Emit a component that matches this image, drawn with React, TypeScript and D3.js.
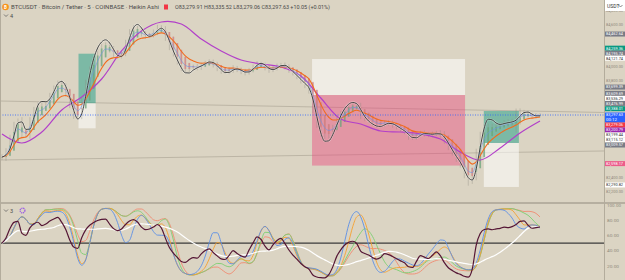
import React, { useEffect, useRef } from 'react';
import * as d3 from 'd3';

const symbolTitle = 'BTCUSDT · Bitcoin / Tether · 5 · COINBASE · Heikin Ashi';
const ohlcFields = ['O', 'H', 'L', 'C'];
const ohlcValues = ['83,279.91', '83,335.52', '83,279.06', '83,297.63'];
const changeText = '+10.05 (+0.01%)';
const countdown = '00:12';

// 5m closes
const closes = [
	82693, 82765, 82952, 83154, 83197, 83039, 83010, 83211, 83370, 83442,
	83398, 83456, 83571, 83672, 83758, 83701, 83614, 83456, 83312, 83283,
	83499, 83744, 83945, 84089, 84219, 84291, 84312, 84241, 84175, 84147,
	84190, 84334, 84478, 84550, 84521, 84463, 84434, 84449, 84492, 84550,
	84521, 84420, 84291, 84190, 84089, 83974, 83945, 83974, 83992, 83981,
	84017, 84046, 84060, 84017, 83974, 83931, 83921, 83945, 83974, 83945,
	83921, 83908, 83945, 83988, 84032, 84017, 83974, 83945, 83974, 84003,
	84017, 83988, 83945, 83902, 83859, 83801, 83744, 83686, 83413, 83183,
	83053, 83010, 83039, 83111, 83226, 83312, 83384, 83427, 83442, 83413,
	83298, 83255, 83226, 83178, 83149, 83161, 83190, 83178, 83154, 83125,
	83096, 83067, 82996, 82981, 83010, 83039, 83024, 83010, 83024, 83039,
	83010, 82938, 82852, 82780, 82693, 82621, 82477, 82391, 82449, 82722,
	82981, 83111, 83129, 83118, 83139, 83154, 83183, 83178, 83197, 83240,
	83312, 83326, 83298, 83279, 83288, 83297.63,
];

// wick size per bar (USDT)
const wicks = [
	40, 55, 60, 45, 50, 70, 40, 55, 45, 35,
	40, 30, 45, 50, 35, 40, 55, 60, 70, 50,
	45, 60, 50, 40, 55, 35, 30, 45, 50, 40,
	35, 45, 55, 40, 30, 35, 40, 30, 35, 45,
	40, 55, 60, 50, 65, 45, 40, 35, 30, 40,
	35, 30, 40, 35, 45, 40, 30, 35, 40, 30,
	35, 40, 30, 35, 40, 30, 35, 40, 30, 35,
	30, 35, 40, 35, 45, 50, 60, 80, 90, 70,
	60, 55, 50, 45, 40, 45, 35, 30, 40, 35,
	60, 45, 40, 35, 30, 35, 30, 35, 40, 35,
	40, 45, 55, 40, 35, 30, 35, 30, 35, 30,
	40, 55, 60, 65, 70, 80, 90, 110, 85, 90,
	75, 60, 45, 40, 50, 35, 40, 55, 45, 150,
	80, 45, 35, 30, 35, 25,
];

// slow average (purple), one reading every 5 bars, last one on the last bar
const slowLine = [
	83024, 82895, 83053, 83370, 83557, 83816, 84219, 84506, 84636, 84607,
	84391, 84219, 84089, 84032, 83988, 83859, 83542, 83240, 83168, 83067,
	83053, 83024, 82952, 82765, 82650, 82823, 83039, 83211,
];
const SLOW_EVERY = 5;

const priceTicks = [82200, 82400, 82600, 82800, 83000, 83200, 83400, 83600, 83800, 84000, 84200, 84400, 84600, 84800];
const oscTicks = [20, 40, 60, 80, 100];
const oscMid = 50;

const labelValues = [
	84462.64, 84259.36, 84195.74, 84121.74, 83699.39, 83609.69, 83536.29, 83476.99, 83388.01,
	83297.63, 83279.06, 83200.79, 83199.44, 83115.12, 83009.57, 82598.17, 82290.82,
];
const labelKinds = [
	'drawing', 'long', 'drawing', 'line', 'drawing', 'drawing', 'line', 'drawing', 'long',
	'last', 'low', 'slow', 'line', 'line', 'drawing', 'short', 'line',
];

// position tools: bar index range + prices
const positions = [
	{ side: 'long', start: 19.2, end: 23.5, entry: 83466, target: 84180, stop: 83106 },
	{ side: 'short', start: 77.8, end: 116.2, entry: 83585, target: 82570, stop: 84103 },
	{ side: 'long', start: 120.9, end: 129.7, entry: 82895, target: 83355, stop: 82262 },
];

const trendLines = [
	{ i1: -0.5, p1: 83499, i2: 151.1, p2: 83334 },
	{ i1: -0.5, p1: 82650, i2: 151.1, p2: 82780 },
];

const W = 625;
const H = 280;
const PLOT_R = 604;
const MAIN_BOTTOM = 202;
const OSC_TOP = 204;
const BG = '#dbd4c3';
const FONT = 'Roboto, "Noto Sans", sans-serif';

const LABEL_STYLE = {
	drawing: { bg: '#787b86', fg: '#ffffff' },
	long: { bg: '#089981', fg: '#ffffff' },
	line: { bg: '#ffffff', fg: '#2a2a2a' },
	last: { bg: '#2962ff', fg: '#ffffff' },
	low: { bg: '#f23645', fg: '#ffffff' },
	slow: { bg: '#9c27b0', fg: '#ffffff' },
	short: { bg: '#ec5b8a', fg: '#ffffff' },
};

function ema(values, n) {
	const k = 2 / (n + 1);
	let prev = values[0];
	return values.map((v, i) => (prev = i === 0 ? v : v * k + prev * (1 - k)));
}

function sma(values, n) {
	return values.map((_, i) => d3.mean(values.slice(Math.max(0, i - n + 1), i + 1)));
}

function wma(values, n) {
	return values.map((_, i) => {
		const len = Math.min(n, i + 1);
		let num = 0;
		let den = 0;
		for (let j = 0; j < len; j++) {
			num += values[i - j] * (len - j);
			den += len - j;
		}
		return num / den;
	});
}

function hma(values, n) {
	const half = wma(values, Math.round(n / 2));
	const full = wma(values, n);
	return wma(half.map((v, i) => 2 * v - full[i]), Math.round(Math.sqrt(n)));
}

// wilder rsi, seeded with the average absolute move on both sides
function rsi(values, n) {
	const moves = values.slice(1).map((v, i) => Math.abs(v - values[i]));
	let up = d3.mean(moves) / 2;
	let dn = up;
	return values.map((v, i) => {
		if (i > 0) {
			const ch = v - values[i - 1];
			up = (up * (n - 1) + Math.max(ch, 0)) / n;
			dn = (dn * (n - 1) + Math.max(-ch, 0)) / n;
		}
		return 100 - 100 / (1 + up / dn);
	});
}

function stoch(c, hi, lo, n, s) {
	const raw = c.map((v, i) => {
		const a = Math.max(0, i - n + 1);
		const h = d3.max(hi.slice(a, i + 1));
		const l = d3.min(lo.slice(a, i + 1));
		return h === l ? 50 : ((v - l) / (h - l)) * 100;
	});
	return sma(sma(raw, s), s);
}

function chevron(g, cx, cy) {
	g.append('path')
		.attr('d', `M${cx - 2},${cy - 1} L${cx},${cy + 1} L${cx + 2},${cy - 1}`)
		.attr('fill', 'none')
		.attr('stroke', '#555')
		.attr('stroke-width', 0.7);
}

function drawChart(node) {
	const svg = d3.select(node);
	svg.selectAll('*').remove();

	const x = d3.scaleLinear().domain([0, closes.length - 1]).range([2, 540]);
	const y = d3.scaleLinear().domain([82045.7, 84952.5]).range([MAIN_BOTTOM, 0]);
	const yo = d3.scaleLinear().domain([0, 100]).range([281.25, 205]);

	const defs = svg.append('defs');
	defs.append('clipPath').attr('id', 'main-clip')
		.append('rect').attr('x', 0).attr('y', 0).attr('width', PLOT_R).attr('height', MAIN_BOTTOM);
	defs.append('clipPath').attr('id', 'osc-clip')
		.append('rect').attr('x', 0).attr('y', OSC_TOP).attr('width', PLOT_R).attr('height', H - OSC_TOP);

	svg.append('rect').attr('width', W).attr('height', H).attr('fill', BG);

	const main = svg.append('g').attr('clip-path', 'url(#main-clip)');

	trendLines.forEach((t) => {
		main.append('line')
			.attr('x1', x(t.i1)).attr('y1', y(t.p1))
			.attr('x2', x(t.i2)).attr('y2', y(t.p2))
			.attr('stroke', '#bcb5a5')
			.attr('stroke-width', 1);
	});

	positions.forEach((p) => {
		const x0 = x(p.start);
		const x1 = x(p.end);
		main.append('rect')
			.attr('x', x0).attr('width', x1 - x0)
			.attr('y', Math.min(y(p.entry), y(p.target)))
			.attr('height', Math.abs(y(p.entry) - y(p.target)))
			.attr('fill', p.side === 'long' ? '#089981' : '#ec407a')
			.attr('fill-opacity', p.side === 'long' ? 0.45 : 0.42);
		main.append('rect')
			.attr('x', x0).attr('width', x1 - x0)
			.attr('y', Math.min(y(p.entry), y(p.stop)))
			.attr('height', Math.abs(y(p.entry) - y(p.stop)))
			.attr('fill', '#ffffff')
			.attr('fill-opacity', 0.55);
	});

	// heikin ashi from raw bars
	const raw = closes.map((c, i) => {
		const o = i === 0 ? c : closes[i - 1];
		return { o, h: Math.max(o, c) + wicks[i], l: Math.min(o, c) - wicks[i], c };
	});
	const ha = [];
	raw.forEach((r, i) => {
		const c = (r.o + r.h + r.l + r.c) / 4;
		const o = i === 0 ? (r.o + r.c) / 2 : (ha[i - 1].o + ha[i - 1].c) / 2;
		ha.push({ o, c, h: Math.max(r.h, o, c), l: Math.min(r.l, o, c) });
	});

	const bw = 1.7;
	const candles = main.append('g').attr('opacity', 0.75);
	candles.selectAll('line').data(ha).join('line')
		.attr('x1', (d, i) => x(i)).attr('x2', (d, i) => x(i))
		.attr('y1', (d) => y(d.h)).attr('y2', (d) => y(d.l))
		.attr('stroke', '#8f8b80')
		.attr('stroke-width', 0.5);
	candles.selectAll('rect').data(ha).join('rect')
		.attr('x', (d, i) => x(i) - bw / 2)
		.attr('width', bw)
		.attr('y', (d) => y(Math.max(d.o, d.c)))
		.attr('height', (d) => Math.max(0.6, Math.abs(y(d.o) - y(d.c))))
		.attr('fill', (d) => (d.c >= d.o ? '#6aa57a' : '#d07a7a'));

	const priceLine = d3.line().x((d, i) => x(i)).y((d) => y(d)).curve(d3.curveMonotoneX);

	const slowPts = slowLine.map((v, i) => [i === slowLine.length - 1 ? closes.length - 1 : i * SLOW_EVERY, v]);
	main.append('path')
		.attr('d', d3.line().x((d) => x(d[0])).y((d) => y(d[1])).curve(d3.curveCatmullRom)(slowPts))
		.attr('fill', 'none')
		.attr('stroke', '#b23fc9')
		.attr('stroke-width', 1.2);

	main.append('path').attr('d', priceLine(ema(closes, 7)))
		.attr('fill', 'none').attr('stroke', '#f26b1d').attr('stroke-width', 1.1);
	main.append('path').attr('d', priceLine(ema(closes, 3)))
		.attr('fill', 'none').attr('stroke', '#6f93e4').attr('stroke-width', 0.8).attr('stroke-opacity', 0.8);
	const fast = hma(closes, 6);
	main.append('path').attr('d', priceLine(fast))
		.attr('fill', 'none').attr('stroke', '#ffffff').attr('stroke-opacity', 0.35).attr('stroke-width', 2.2);
	main.append('path').attr('d', priceLine(fast))
		.attr('fill', 'none').attr('stroke', '#333333').attr('stroke-width', 0.9);

	const last = closes[closes.length - 1];
	main.append('line')
		.attr('x1', 0).attr('x2', PLOT_R)
		.attr('y1', y(last)).attr('y2', y(last))
		.attr('stroke', '#2962ff')
		.attr('stroke-width', 0.8)
		.attr('stroke-dasharray', '1,1.5');

	// oscillator pane
	const highs = raw.map((r) => r.h);
	const lows = raw.map((r) => r.l);
	const osc = svg.append('g').attr('clip-path', 'url(#osc-clip)');
	const oscLine = d3.line().x((d, i) => x(i)).y((d) => yo(d)).curve(d3.curveMonotoneX);
	osc.append('line')
		.attr('x1', 0).attr('x2', PLOT_R)
		.attr('y1', yo(oscMid)).attr('y2', yo(oscMid))
		.attr('stroke', '#3b3b3b').attr('stroke-width', 1.4);
	const stochs = [
		{ n: 14, color: '#f08a70' },
		{ n: 11, color: '#7ccf70' },
		{ n: 8, color: '#f5a030' },
		{ n: 6, color: '#5b8ee6' },
	];
	stochs.forEach((s) => {
		osc.append('path').attr('d', oscLine(stoch(closes, highs, lows, s.n, 3)))
			.attr('fill', 'none').attr('stroke', s.color).attr('stroke-width', 0.9);
	});
	const r = rsi(closes, 8);
	osc.append('path').attr('d', oscLine(sma(r, 14)))
		.attr('fill', 'none').attr('stroke', '#ffffff').attr('stroke-width', 1.2);
	osc.append('path').attr('d', oscLine(r))
		.attr('fill', 'none').attr('stroke', '#551635').attr('stroke-width', 1.2);

	// frame
	svg.append('line').attr('x1', 0).attr('x2', W).attr('y1', 203).attr('y2', 203)
		.attr('stroke', '#aaa394').attr('stroke-width', 1.5);
	svg.append('line').attr('x1', PLOT_R + 0.5).attr('x2', PLOT_R + 0.5).attr('y1', 0).attr('y2', H)
		.attr('stroke', '#b3ac9c').attr('stroke-width', 1);
	svg.append('line').attr('x1', 0.5).attr('x2', 0.5).attr('y1', 0).attr('y2', H)
		.attr('stroke', '#b3ac9c').attr('stroke-width', 1);

	// price axis labels
	const LH = 5;
	let prevBottom = -Infinity;
	const placed = labelValues.map((v, i) => {
		const kind = labelKinds[i];
		const h = kind === 'last' ? 10 : LH;
		let top = y(v) - LH / 2;
		if (top < prevBottom) top = prevBottom;
		prevBottom = top + h;
		return { v, kind, top, h };
	});

	const fmt = d3.format(',.2f');
	const axis = svg.append('g').attr('font-family', FONT);
	priceTicks.forEach((t) => {
		const ty = y(t);
		const hidden = placed.some((p) => ty > p.top - 2.5 && ty < p.top + p.h + 2.5);
		if (hidden) return;
		axis.append('text')
			.attr('x', 606).attr('y', ty + 1.6)
			.attr('font-size', 4.4).attr('fill', '#8e887c')
			.attr('textLength', 17).attr('lengthAdjust', 'spacingAndGlyphs')
			.text(fmt(t));
	});
	placed.forEach((p) => {
		const st = LABEL_STYLE[p.kind];
		axis.append('rect')
			.attr('x', PLOT_R + 1).attr('y', p.top)
			.attr('width', W - PLOT_R - 1).attr('height', p.h)
			.attr('fill', st.bg);
		axis.append('text')
			.attr('x', 606).attr('y', p.top + 3.9)
			.attr('font-size', 4.4).attr('fill', st.fg)
			.attr('textLength', 17).attr('lengthAdjust', 'spacingAndGlyphs')
			.text(fmt(p.v));
		if (p.kind === 'last') {
			axis.append('text')
				.attr('x', 606).attr('y', p.top + 8.7)
				.attr('font-size', 4.4).attr('fill', st.fg)
				.text(countdown);
		}
	});
	oscTicks.forEach((t) => {
		axis.append('text')
			.attr('x', 607).attr('y', yo(t) + 1.6)
			.attr('font-size', 4.4).attr('fill', '#8e887c')
			.attr('textLength', t === 100 ? 14 : 12).attr('lengthAdjust', 'spacingAndGlyphs')
			.text(fmt(t));
	});

	// currency box
	axis.append('rect').attr('x', PLOT_R + 1).attr('y', 0).attr('width', W - PLOT_R - 1).attr('height', 11)
		.attr('fill', '#ffffff');
	axis.append('text').attr('x', 607).attr('y', 7.5).attr('font-size', 5).attr('fill', '#333')
		.text('USDT');
	chevron(axis, 620.5, 6);

	// legend
	const legend = svg.append('g').attr('font-family', FONT);
	legend.append('circle').attr('cx', 5.5).attr('cy', 7).attr('r', 3.3).attr('fill', '#f7931a');
	legend.append('text').attr('x', 5.5).attr('y', 8.8).attr('text-anchor', 'middle')
		.attr('font-size', 4.5).attr('font-weight', 700).attr('fill', '#fff').text('B');
	legend.append('text')
		.attr('x', 11).attr('y', 9.2)
		.attr('font-size', 6.2).attr('fill', '#4a4a4a')
		.attr('textLength', 148).attr('lengthAdjust', 'spacingAndGlyphs')
		.text(symbolTitle);
	legend.append('rect').attr('x', 164).attr('y', 4.5).attr('width', 4).attr('height', 5)
		.attr('fill', '#f23645');
	legend.append('text')
		.attr('x', 175).attr('y', 9.2)
		.attr('font-size', 5.6).attr('fill', '#4a4a4a')
		.attr('textLength', 155).attr('lengthAdjust', 'spacingAndGlyphs')
		.text(ohlcFields.map((f, i) => f + ohlcValues[i]).join(' ') + ' ' + changeText);
	chevron(legend, 6, 15.5);
	legend.append('text').attr('x', 10).attr('y', 17.5).attr('font-size', 5.5).attr('fill', '#4a4a4a').text('4');
	chevron(legend, 6, 210.5);
	legend.append('text').attr('x', 10).attr('y', 212.5).attr('font-size', 5.5).attr('fill', '#4a4a4a').text('3');
	legend.append('circle').attr('cx', 22.5).attr('cy', 210.5).attr('r', 2.4)
		.attr('fill', 'none').attr('stroke', '#9b5de5').attr('stroke-width', 1.3).attr('stroke-dasharray', '1.2,0.6');
}

export default function App() {
	const ref = useRef(null);

	useEffect(() => {
		drawChart(ref.current);
	}, []);

	return (
		<div>
			<style>{`body{margin:0;background:${BG}}`}</style>
			<svg ref={ref} width={W} height={H} style={{ display: 'block' }} />
		</div>
	);
}
